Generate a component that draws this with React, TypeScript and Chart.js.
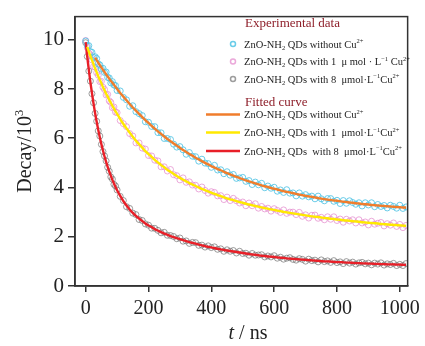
import React, { useEffect, useRef } from "react";
import { Chart, registerables } from "chart.js";

Chart.register(...registerables);

// time axis (ns)
const TIME = [0,5,10,15,20,25,30,35,40,45,50,55,60,65,70,75,80,85,90,95,100,
  110,120,130,140,150,160,170,180,190,200,210,220,230,240,250,260,270,280,290,
  300,310,320,330,340,350,360,370,380,390,400,410,420,430,440,450,460,470,480,490,
  500,510,520,530,540,550,560,570,580,590,600,610,620,630,640,650,660,670,680,690,
  700,710,720,730,740,750,760,770,780,790,800,810,820,830,840,850,860,870,880,890,
  900,910,920,930,940,950,960,970,980,990,1000,1010,1020];

// experimental data (Decay / 10^3)
const EXP_NO_CU = [9.95,9.76,9.76,9.52,9.49,9.28,9.31,9.24,9.02,8.98,
  8.81,8.84,8.67,8.69,8.47,8.45,8.25,8.30,8.16,8.14,
  7.94,7.92,7.66,7.56,7.30,7.32,7.08,7.00,6.92,6.67,
  6.65,6.48,6.47,6.23,6.22,5.99,5.99,5.95,5.76,5.64,
  5.66,5.53,5.35,5.42,5.27,5.25,5.07,5.15,4.99,4.97,
  4.82,4.90,4.71,4.72,4.56,4.64,4.50,4.53,4.37,4.39,
  4.41,4.25,4.28,4.12,4.22,4.11,4.17,3.99,4.06,3.97,
  4.01,3.85,3.90,3.80,3.91,3.77,3.78,3.66,3.78,3.65,
  3.71,3.62,3.65,3.54,3.65,3.54,3.46,3.55,3.55,3.44,
  3.48,3.35,3.47,3.36,3.46,3.39,3.32,3.38,3.25,3.38,
  3.29,3.38,3.22,3.31,3.23,3.27,3.17,3.28,3.23,3.16,
  3.28,3.15,3.21];

const EXP_1UM = [9.97,9.68,9.46,9.39,9.18,8.91,8.89,8.66,8.56,8.30,
  8.31,8.07,7.98,7.76,7.78,7.52,7.46,7.24,7.27,7.06,
  7.04,6.72,6.59,6.47,6.19,6.09,5.81,5.81,5.60,5.56,
  5.30,5.28,5.11,5.08,4.84,4.84,4.67,4.73,4.52,4.48,
  4.31,4.39,4.21,4.23,4.10,4.09,3.94,4.02,3.88,3.77,
  3.83,3.80,3.66,3.67,3.51,3.61,3.47,3.56,3.46,3.37,
  3.41,3.26,3.37,3.26,3.34,3.16,3.23,3.13,3.16,3.04,
  3.14,3.07,2.99,3.09,2.95,3.00,3.00,2.90,2.99,2.83,
  2.89,2.76,2.87,2.88,2.75,2.79,2.69,2.81,2.71,2.81,
  2.66,2.72,2.59,2.71,2.64,2.69,2.56,2.69,2.56,2.60,
  2.48,2.63,2.51,2.55,2.58,2.44,2.53,2.47,2.56,2.42,
  2.50,2.37,2.46];

const EXP_8UM = [9.88,9.32,8.73,8.32,7.81,7.44,7.01,6.69,6.30,6.09,
  5.75,5.46,5.28,5.08,4.82,4.66,4.43,4.34,4.13,4.06,
  3.90,3.64,3.47,3.22,3.15,2.96,2.90,2.70,2.66,2.52,
  2.47,2.35,2.34,2.26,2.16,2.18,2.06,2.05,2.01,1.92,
  1.95,1.82,1.83,1.73,1.77,1.76,1.65,1.66,1.58,1.63,
  1.56,1.59,1.49,1.51,1.41,1.47,1.41,1.44,1.34,1.41,
  1.32,1.33,1.25,1.32,1.25,1.26,1.27,1.18,1.22,1.18,
  1.23,1.13,1.17,1.09,1.13,1.15,1.08,1.05,1.11,1.08,
  1.01,1.09,1.03,1.05,0.98,1.06,0.99,1.02,0.96,1.03,
  0.95,0.98,0.91,0.99,0.93,0.97,0.89,0.94,0.96,0.90,
  0.93,0.86,0.93,0.89,0.94,0.85,0.90,0.87,0.92,0.83,
  0.88,0.83,0.91];

// fitted curves
const FIT_NO_CU = [null,null,null,null,null,null,9.27,9.17,9.07,8.97,
  8.88,8.78,8.69,8.60,8.51,8.42,8.33,8.25,8.17,8.08,
  8.00,7.84,7.69,7.54,7.39,7.25,7.12,6.99,6.86,6.74,
  6.62,6.50,6.39,6.28,6.18,6.07,5.97,5.88,5.79,5.70,
  5.61,5.52,5.44,5.36,5.29,5.21,5.14,5.07,5.00,4.94,
  4.87,4.81,4.75,4.70,4.64,4.58,4.53,4.48,4.43,4.38,
  4.34,4.29,4.25,4.21,4.17,4.13,4.09,4.05,4.02,3.98,
  3.95,3.92,3.88,3.85,3.82,3.80,3.77,3.74,3.71,3.69,
  3.66,3.64,3.62,3.60,3.57,3.55,3.53,3.51,3.49,3.47,
  3.46,3.44,3.42,3.41,3.39,3.38,3.36,3.35,3.33,3.32,
  3.31,3.29,3.28,3.27,3.26,3.25,3.24,3.23,3.22,3.21,
  3.20,3.19,3.18];

const FIT_1UM = [null,9.71,9.52,9.34,9.17,9.00,8.83,8.68,8.52,8.37,
  8.23,8.08,7.95,7.81,7.69,7.56,7.44,7.32,7.21,7.09,
  6.99,6.78,6.58,6.40,6.23,6.06,5.90,5.76,5.62,5.48,
  5.36,5.24,5.12,5.02,4.91,4.82,4.72,4.64,4.55,4.47,
  4.39,4.32,4.25,4.18,4.12,4.06,4.00,3.94,3.89,3.84,
  3.79,3.74,3.69,3.65,3.60,3.56,3.52,3.49,3.45,3.41,
  3.38,3.34,3.31,3.28,3.25,3.22,3.19,3.16,3.14,3.11,
  3.09,3.06,3.04,3.01,2.99,2.97,2.95,2.93,2.91,2.89,
  2.87,2.85,2.83,2.81,2.80,2.78,2.76,2.75,2.73,2.72,
  2.70,2.69,2.67,2.66,2.65,2.63,2.62,2.61,2.59,2.58,
  2.57,2.56,2.55,2.54,2.52,2.51,2.50,2.49,2.48,2.47,
  2.46,2.45,2.44];

const FIT_8UM = [9.90,9.31,8.78,8.28,7.83,7.41,7.02,6.67,6.34,6.04,
  5.76,5.50,5.26,5.04,4.84,4.65,4.48,4.31,4.16,4.02,
  3.89,3.66,3.45,3.27,3.11,2.97,2.85,2.74,2.64,2.54,
  2.46,2.39,2.31,2.25,2.19,2.13,2.08,2.03,1.98,1.94,
  1.90,1.86,1.82,1.78,1.75,1.72,1.68,1.65,1.62,1.59,
  1.57,1.54,1.51,1.49,1.46,1.44,1.42,1.40,1.38,1.36,
  1.34,1.32,1.30,1.28,1.27,1.25,1.23,1.22,1.20,1.19,
  1.18,1.16,1.15,1.14,1.12,1.11,1.10,1.09,1.08,1.07,
  1.06,1.05,1.04,1.03,1.02,1.01,1.00,1.00,0.99,0.98,
  0.97,0.97,0.96,0.95,0.95,0.94,0.93,0.93,0.92,0.92,
  0.91,0.91,0.90,0.90,0.89,0.89,0.88,0.88,0.88,0.87,
  0.87,0.86,0.86];

const X_TICKS = [0, 200, 400, 600, 800, 1000];
const Y_TICKS = [0, 2, 4, 6, 8, 10];

type Seg = { t: string; k?: "sub" | "sup" | "it" };

const LEGEND_EXP_TITLE = "Experimental data";
const LEGEND_FIT_TITLE = "Fitted curve";
const LEGEND_EXP: Seg[][] = [
  [{ t: "ZnO-NH" }, { t: "2", k: "sub" }, { t: " QDs without Cu" }, { t: "2+", k: "sup" }],
  [{ t: "ZnO-NH" }, { t: "2", k: "sub" }, { t: " QDs with 1  \u03bc mol \u00b7 L" }, { t: "\u22121", k: "sup" }, { t: " Cu" }, { t: "2+", k: "sup" }],
  [{ t: "ZnO-NH" }, { t: "2", k: "sub" }, { t: " QDs with 8  \u03bcmol\u00b7L" }, { t: "\u22121", k: "sup" }, { t: "Cu" }, { t: "2+", k: "sup" }],
];
const LEGEND_FIT: Seg[][] = [
  [{ t: "ZnO-NH" }, { t: "2", k: "sub" }, { t: " QDs without Cu" }, { t: "2+", k: "sup" }],
  [{ t: "ZnO-NH" }, { t: "2", k: "sub" }, { t: " QDs with 1  \u03bcmol\u00b7L" }, { t: "\u22121", k: "sup" }, { t: "Cu" }, { t: "2+", k: "sup" }],
  [{ t: "ZnO-NH" }, { t: "2", k: "sub" }, { t: " QDs  with 8  \u03bcmol\u00b7L" }, { t: "\u22121", k: "sup" }, { t: "Cu" }, { t: "2+", k: "sup" }],
];

const SERIF = "'Liberation Serif', 'Times New Roman', serif";
const C_CYAN = "rgba(80,195,228,0.85)";
const C_PINK = "rgba(228,140,205,0.75)";
const C_GRAY = "rgba(115,115,115,0.7)";
const C_ORANGE = "#F07D2C";
const C_YELLOW = "#FFE900";
const C_RED = "#E81F28";
const C_TITLE = "#8E1F2A";

function drawRich(ctx: CanvasRenderingContext2D, segs: Seg[], x: number, y: number, size: number, color: string, align: "left" | "center") {
  const fontFor = (k?: string) =>
    k === "sub" || k === "sup" ? `${size * 0.62}px ${SERIF}` : k === "it" ? `italic ${size}px ${SERIF}` : `${size}px ${SERIF}`;
  let total = 0;
  for (const s of segs) { ctx.font = fontFor(s.k); total += ctx.measureText(s.t).width; }
  let cx = align === "center" ? x - total / 2 : x;
  ctx.textAlign = "left";
  ctx.textBaseline = "alphabetic";
  ctx.fillStyle = color;
  for (const s of segs) {
    ctx.font = fontFor(s.k);
    const dy = s.k === "sup" ? -size * 0.4 : s.k === "sub" ? size * 0.22 : 0;
    ctx.fillText(s.t, cx, y + dy);
    cx += ctx.measureText(s.t).width;
  }
}

const pts = (ys: (number | null)[]) => TIME.map((t, i) => ({ x: t, y: ys[i] }));

export default function App() {
  const ref = useRef<HTMLCanvasElement>(null);
  useEffect(() => {
    document.body.style.margin = "0";
    const canvas = ref.current!;
    const decor = {
      id: "decor",
      afterDraw(chart: any) {
        const ctx: CanvasRenderingContext2D = chart.ctx;
        const a = chart.chartArea;
        ctx.save();
        // frame
        ctx.strokeStyle = "#333";
        ctx.lineWidth = 1.5;
        ctx.strokeRect(a.left, a.top, a.right - a.left, a.bottom - a.top);
        // axis titles
        ctx.save();
        ctx.translate(31, (a.top + a.bottom) / 2);
        ctx.rotate(-Math.PI / 2);
        drawRich(ctx, [{ t: "Decay/10" }, { t: "3", k: "sup" }], 0, 0, 20, "#222", "center");
        ctx.restore();
        drawRich(ctx, [{ t: "t", k: "it" }, { t: " / ns" }], 248, 339, 20, "#222", "center");
        // legend
        drawRich(ctx, [{ t: LEGEND_EXP_TITLE }], 245, 27, 13, C_TITLE, "left");
        const expCols = [C_CYAN, C_PINK, C_GRAY];
        const expY = [44, 61.5, 79];
        LEGEND_EXP.forEach((segs, i) => {
          ctx.beginPath();
          ctx.strokeStyle = expCols[i];
          ctx.lineWidth = 1.5;
          ctx.arc(233, expY[i], 2.5, 0, Math.PI * 2);
          ctx.stroke();
          drawRich(ctx, segs, 244, expY[i] + 3.5, 10.5, "#222", "left");
        });
        drawRich(ctx, [{ t: LEGEND_FIT_TITLE }], 245, 106, 13, C_TITLE, "left");
        const fitCols = [C_ORANGE, C_YELLOW, C_RED];
        const fitY = [114.5, 132.5, 151];
        LEGEND_FIT.forEach((segs, i) => {
          ctx.beginPath();
          ctx.strokeStyle = fitCols[i];
          ctx.lineWidth = 2.5;
          ctx.moveTo(206, fitY[i]);
          ctx.lineTo(240, fitY[i]);
          ctx.stroke();
          drawRich(ctx, segs, 244, fitY[i] + 3.5, 10.5, "#222", "left");
        });
        ctx.restore();
      },
    };
    const scatter = (data: number[], color: string) => ({
      data: pts(data),
      showLine: false,
      pointRadius: 3,
      pointBorderWidth: 1,
      pointBorderColor: color,
      pointBackgroundColor: "rgba(255,255,255,0)",
      borderColor: color,
      order: 1,
    });
    const fit = (data: (number | null)[], color: string) => ({
      data: pts(data),
      showLine: true,
      pointRadius: 0,
      borderColor: color,
      borderWidth: 2.4,
      tension: 0.2,
      spanGaps: false,
      order: 0,
    });
    const chart = new Chart(canvas, {
      type: "line",
      data: {
        datasets: [
          scatter(EXP_NO_CU, C_CYAN),
          scatter(EXP_1UM, C_PINK),
          scatter(EXP_8UM, C_GRAY),
          fit(FIT_NO_CU, C_ORANGE),
          fit(FIT_1UM, C_YELLOW),
          fit(FIT_8UM, C_RED),
        ] as any,
      },
      options: {
        responsive: false,
        animation: false,
        events: [],
        layout: { padding: { top: 13, right: 9, left: 0, bottom: 0 } },
        plugins: { legend: { display: false }, tooltip: { enabled: false } },
        scales: {
          x: {
            type: "linear",
            min: -34,
            max: 1025,
            afterBuildTicks: (s: any) => { s.ticks = X_TICKS.map((v) => ({ value: v })); },
            afterFit: (s: any) => { s.height = 60; },
            ticks: { font: { family: SERIF, size: 20 }, color: "#222", padding: 5, maxRotation: 0, autoSkip: false, callback: (v: any) => String(v) },
            grid: { drawOnChartArea: false, drawTicks: true, tickLength: 6, color: "#333", lineWidth: 1.5 },
            border: { display: true, color: "#333", width: 1.5 },
          },
          y: {
            type: "linear",
            min: 0,
            max: 10.94,
            afterBuildTicks: (s: any) => { s.ticks = Y_TICKS.map((v) => ({ value: v })); },
            afterFit: (s: any) => { s.width = 75; },
            ticks: { font: { family: SERIF, size: 21 }, color: "#222", padding: 4, callback: (v: any) => String(v) },
            grid: { drawOnChartArea: false, drawTicks: true, tickLength: 7, color: "#333", lineWidth: 1.5 },
            border: { display: true, color: "#333", width: 1.5 },
          },
        },
      },
      plugins: [decor],
    });
    return () => chart.destroy();
  }, []);
  return (
    <div style={{ width: 425, height: 346 }}>
      <canvas ref={ref} width={425} height={346} style={{ display: "block" }} />
    </div>
  );
}
